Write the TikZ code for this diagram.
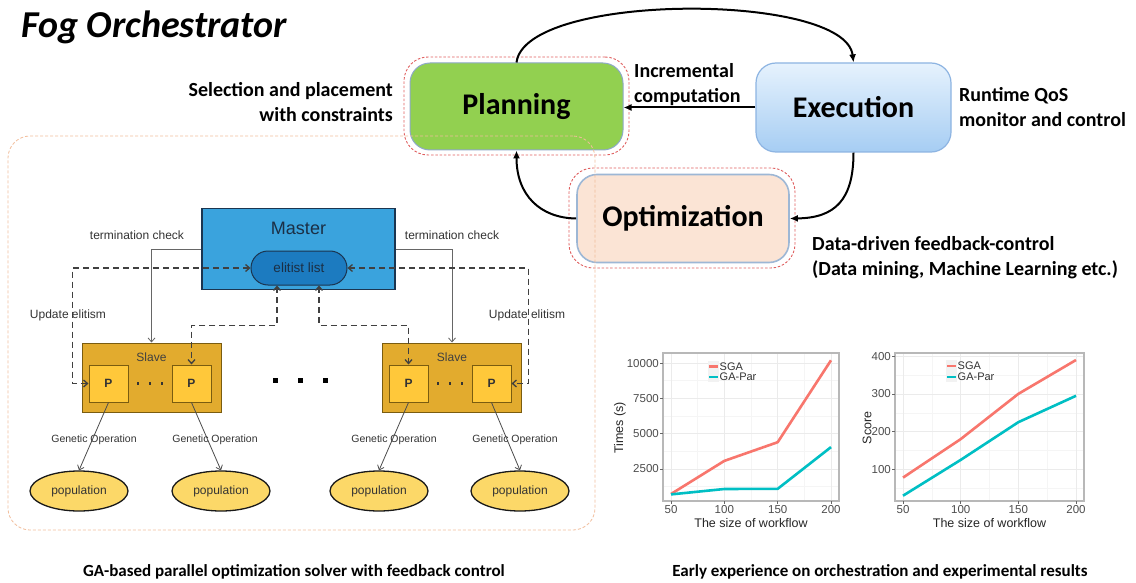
\documentclass[tikz,border=0pt]{standalone}
\usepackage{fontspec}
\setmainfont{Carlito}
\newfontfamily\arialf{Liberation Sans}
\usetikzlibrary{arrows.meta,shapes.geometric,calc}
\definecolor{plangreen}{HTML}{92D050}
\definecolor{planedge}{HTML}{8EA9C8}
\definecolor{exectop}{HTML}{E6F2FD}
\definecolor{execbot}{HTML}{A6CDF3}
\definecolor{execedge}{HTML}{8DB4E2}
\definecolor{optfill}{HTML}{FBE4D5}
\definecolor{optedge}{HTML}{9DB7D5}
\definecolor{dashred}{HTML}{E06060}
\definecolor{panelc}{HTML}{F2BE9C}
\definecolor{masterfill}{HTML}{3AA3DD}
\definecolor{masteredge}{HTML}{1B3550}
\definecolor{pillfill}{HTML}{1C7BC0}
\definecolor{mastertext}{HTML}{1B2F45}
\definecolor{slavefill}{HTML}{E2AB2E}
\definecolor{slaveedge}{HTML}{7A5C10}
\definecolor{pfill}{HTML}{FFC83A}
\definecolor{popfill}{HTML}{FCD868}
\definecolor{chartred}{HTML}{F8766D}
\definecolor{chartteal}{HTML}{00BFC4}
\definecolor{gridmaj}{HTML}{EBEBEB}
\definecolor{gridmin}{HTML}{F5F5F5}
\definecolor{framec}{HTML}{B8B8B8}
\definecolor{ticktxt}{HTML}{4D4D4D}
\tikzset{
  bigbox/.style={rounded corners=20pt, inner sep=0, font=\fontsize{30}{36}\selectfont\bfseries, text=black},
  reddash/.style={draw=dashred, dash pattern=on 2.5pt off 1.8pt, line width=0.9pt, rounded corners=24pt, inner sep=0},
  cyc/.style={draw=black, line width=2pt, -{Latex[length=8pt,width=7pt]}},
  note/.style={font=\fontsize{20}{25}\selectfont\bfseries, inner sep=0},
  caption/.style={font=\fontsize{17}{20}\selectfont\bfseries, inner sep=0},
  gtxt/.style={font=\arialf\fontsize{12}{14}\selectfont, text=black!80, inner sep=0},
  gentxt/.style={font=\arialf\fontsize{10.5}{12}\selectfont, text=black!80, inner sep=0},
  termln/.style={draw=black!60, line width=0.8pt, -{Straight Barb[length=4pt,width=7pt]}},
  dashln/.style={draw=black!75, line width=1.3pt, dash pattern=on 6pt off 4pt, {Straight Barb[length=4pt,width=7pt]}-{Straight Barb[length=4pt,width=7pt]}},
  genln/.style={draw=black!70, line width=0.8pt, -{Straight Barb[length=4pt,width=7pt]}},
  slavebox/.style={draw=slaveedge, fill=slavefill, line width=1pt, minimum width=139pt, minimum height=69pt, inner sep=0},
  pbox/.style={draw=slaveedge, fill=pfill, line width=1pt, minimum width=39pt, minimum height=37pt, inner sep=0, font=\arialf\fontsize{12}{14}\selectfont\bfseries, text=black!80},
  popn/.style={ellipse, draw=black!90, fill=popfill, line width=1.3pt, minimum width=98pt, minimum height=40pt, inner sep=0, font=\arialf\fontsize{12}{14}\selectfont, text=black!80},
  ticklab/.style={font=\arialf\fontsize{11.5}{13}\selectfont, text=ticktxt, inner sep=0},
  axlab/.style={font=\arialf\fontsize{12.5}{14}\selectfont, text=black!85, inner sep=0},
  leglab/.style={font=\arialf\fontsize{11}{12}\selectfont, text=black!80, inner sep=0, anchor=west},
  gmaj/.style={draw=gridmaj, line width=0.8pt},
  gmin/.style={draw=gridmin, line width=0.5pt},
  sgaln/.style={draw=chartred, line width=2.6pt, line join=round},
  parln/.style={draw=chartteal, line width=2.6pt, line join=round},
}
\begin{document}
\begin{tikzpicture}[x=1pt,y=-1pt]
\useasboundingbox (0,0) rectangle (1136,583);
\fill[white] (0,0) rectangle (1136,583);

% title
\node[anchor=base west, inner sep=0, font=\fontsize{38}{44}\selectfont\bfseries\itshape] (title) at (21,38) {Fog Orchestrator};

% red dashed frames
\node[reddash, minimum width=225pt, minimum height=98pt] (pland) at (516.5,106) {};
\node[reddash, minimum width=226pt, minimum height=100pt] (optd) at (682,218) {};

% main boxes
\node[bigbox, fill=plangreen, draw=planedge, line width=1pt, minimum width=213pt, minimum height=87pt] (plan) at (516.5,106.5) {Planning};
\node[bigbox, top color=exectop, bottom color=execbot, draw=execedge, line width=1.2pt, minimum width=195pt, minimum height=89pt] (exec) at (853.5,107.5) {Execution};
\node[bigbox, fill=optfill, draw=optedge, line width=1.6pt, minimum width=212pt, minimum height=88pt] (opt) at (683,218.5) {Optimization};

% cycle arrows
\draw[cyc] (plan.north) .. controls (525,-8) and (845,-8) .. (exec.north);
\draw[cyc] (exec.west) -- (exec.west -| plan.east);
\draw[cyc] (exec.south) .. controls (853.5,200) and (835,218) .. (opt.east);
\draw[cyc] (opt.west) .. controls (540,218) and (516.5,195) .. (plan.south);

% annotations
\node[note, align=right, anchor=east] (selnote) at (393,102) {Selection and placement\\with constraints};
\node[note, align=left, anchor=west] (incnote) at (634,85) {Incremental\\computation};
\node[note, align=left, anchor=west] (runnote) at (959,107) {Runtime QoS\\monitor and control};
\node[note, align=left, anchor=west] (datanote) at (812,258) {Data-driven feedback-control\\(Data mining, Machine Learning etc.)};

% left panel
\node[draw=panelc, dash pattern=on 3pt off 2pt, line width=0.8pt, rounded corners=22pt, minimum width=587pt, minimum height=394pt, inner sep=0] (panel) at (301.5,333) {};

\node[draw=masteredge, fill=masterfill, line width=1.2pt, minimum width=193pt, minimum height=81pt, inner sep=0] (master) at (298.5,249) {};
\node[font=\arialf\fontsize{18}{20}\selectfont, text=mastertext, inner sep=0] (mastertxt) at (298.5,228) {Master};
\node[draw=masteredge, fill=pillfill, line width=1pt, rounded corners=17pt, minimum width=96pt, minimum height=34pt, inner sep=0, font=\arialf\fontsize{13.5}{15}\selectfont, text=mastertext] (pill) at (299,268) {elitist list};

\node[slavebox] (slave1) at (151.5,377.5) {};
\node[slavebox] (slave2) at (452,377.5) {};
\node[gtxt, text=black!75] (slave1txt) at (151.5,357) {Slave};
\node[gtxt, text=black!75] (slave2txt) at (452,357) {Slave};
\node[pbox] (p11) at (108.5,383.5) {P};
\node[pbox] (p12) at (191.5,383.5) {P};
\node[pbox] (p21) at (408.5,383.5) {P};
\node[pbox] (p22) at (491.5,383.5) {P};
\foreach \x in {138,150,162,438,450,462} \fill[black!80] (\x-1.3,382) rectangle (\x+1.3,384.6);
\foreach \x in {275,300,325} \fill[black] (\x-2.5,377.5) rectangle (\x+2.5,382.5);

% termination checks
\draw[termln] (master.west) -| (slave1.north);
\draw[termln] (master.east) -| (slave2.north);
\node[gtxt] (term1) at (137,235) {termination check};
\node[gtxt] (term2) at (452,235) {termination check};

% update elitism dashed
\draw[dashln] (pill.west) -- ++(-178,0) |- (p11.west);
\draw[dashln] (pill.east) -- ++(181,0) |- (p22.east);
\draw[dashln] ([xshift=-22pt]pill.south) -- ++(0,40) -| (p12.north);
\draw[dashln] ([xshift=20pt]pill.south) -- ++(0,40) -| (p21.north);
\node[gtxt] (upd1) at (68,315) {Update elitism};
\node[gtxt] (upd2) at (527,315) {Update elitism};

% populations
\node[popn] (pop1) at (79,491) {population};
\node[popn] (pop2) at (221,491) {population};
\node[popn] (pop3) at (379,491) {population};
\node[popn] (pop4) at (520,491) {population};
\draw[genln] (p11.south) -- (pop1.north);
\draw[genln] (p12.south) -- (pop2.north);
\draw[genln] (p21.south) -- (pop3.north);
\draw[genln] (p22.south) -- (pop4.north);
\node[gentxt] (gen1) at (94,440) {Genetic Operation};
\node[gentxt] (gen2) at (215,440) {Genetic Operation};
\node[gentxt] (gen3) at (394,440) {Genetic Operation};
\node[gentxt] (gen4) at (515,440) {Genetic Operation};

% captions
\node[caption] (capl) at (294,572) {GA-based parallel optimization solver with feedback control};
\node[caption] (capr) at (880,572) {Early experience on orchestration and experimental results};

% chart 1
\foreach \x in {697.7,751,804.3} \draw[gmin] (\x,353) -- (\x,501);
\foreach \y in {486.7,451.4,416,380.7} \draw[gmin] (663,\y) -- (839,\y);
\foreach \x in {671,724.3,777.7,831} \draw[gmaj] (\x,353) -- (\x,501);
\foreach \y in {469,433.7,398.4,363.1} \draw[gmaj] (663,\y) -- (839,\y);
\draw[sgaln] (671,494.0) -- (724.3,460.9) -- (777.7,442.2) -- (831,360.3);
\draw[parln] (671,494.4) -- (724.3,489.0) -- (777.7,488.8) -- (831,447.1);
\draw[framec, line width=1.3pt] (663,353) rectangle (839,501);
\foreach \y/\l in {363.1/10000,398.4/7500,433.7/5000,469/2500} {
  \draw[black!60, line width=0.7pt] (660,\y) -- (663,\y);
  \node[ticklab, anchor=east] (ya\l) at (659,\y) {\l};
}
\foreach \x/\l in {671/50,724.3/100,777.7/150,831/200} {
  \draw[black!60, line width=0.7pt] (\x,501) -- (\x,504);
  \node[ticklab] (xa\l) at (\x,510) {\l};
}
\node[axlab, rotate=90] (ylab1) at (620,428) {Times (s)};
\node[axlab] (xlab1) at (751,523) {The size of workflow};
\fill[black!5] (708,361) rectangle (719,382);
\draw[chartred, line width=2.4pt] (709,366.5) -- (718,366.5);
\draw[chartteal, line width=2.4pt] (709,377) -- (718,377);
\node[leglab] (lg1a) at (719.5,366.5) {SGA};
\node[leglab] (lg1b) at (719.5,377) {GA-Par};

% chart 2
\foreach \x in {931.8,989.5,1047.2} \draw[gmin] (\x,353) -- (\x,501);
\foreach \y in {488.2,450.5,412.8,375.1} \draw[gmin] (895,\y) -- (1084,\y);
\foreach \x in {903,960.7,1018.3,1076} \draw[gmaj] (\x,353) -- (\x,501);
\foreach \y in {469.3,431.6,393.9,356.2} \draw[gmaj] (895,\y) -- (1084,\y);
\draw[sgaln] (903,477.6) -- (960.7,439.1) -- (1018.3,393.9) -- (1076,360.0);
\draw[parln] (903,495.7) -- (960.7,459.9) -- (1018.3,422.2) -- (1076,395.8);
\draw[framec, line width=1.3pt] (895,353) rectangle (1084,501);
\foreach \y/\l in {356.2/400,393.9/300,431.6/200,469.3/100} {
  \draw[black!60, line width=0.7pt] (892,\y) -- (895,\y);
  \node[ticklab, anchor=east] (yb\l) at (891,\y) {\l};
}
\foreach \x/\l in {903/50,960.7/100,1018.3/150,1076/200} {
  \draw[black!60, line width=0.7pt] (\x,501) -- (\x,504);
  \node[ticklab] (xb\l) at (\x,510) {\l};
}
\node[axlab, rotate=90] (ylab2) at (867,428) {Score};
\node[axlab] (xlab2) at (989.5,523) {The size of workflow};
\fill[black!5] (946,360) rectangle (957,382);
\draw[chartred, line width=2.4pt] (947,366) -- (956,366);
\draw[chartteal, line width=2.4pt] (947,377) -- (956,377);
\node[leglab] (lg2a) at (957.5,366) {SGA};
\node[leglab] (lg2b) at (957.5,377) {GA-Par};
\end{tikzpicture}
\end{document}
